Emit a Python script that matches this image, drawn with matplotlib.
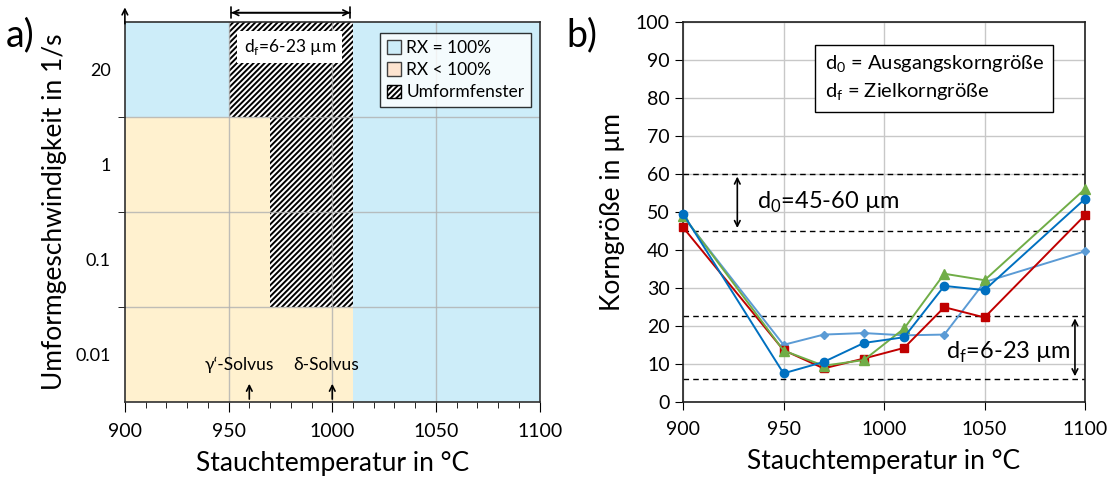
import numpy as np
import matplotlib
matplotlib.use('Agg')
import matplotlib.pyplot as plt
from matplotlib.patches import Patch, Rectangle

plt.rcParams['font.family'] = ['Lato', 'DejaVu Sans']
plt.rcParams['hatch.linewidth'] = 1.4

# --- panel a) process window ---
rate_labels = ['0.01', '0.1', '1', '20']          # bands from bottom to top
# per band: (end of RX<100% region, start of hatch, end of hatch)
rx_low_end = [1010, 970, 970, 900]
hatch_start = [1010, 970, 970, 950]
hatch_end = [1010, 1010, 1010, 1010]
solvus_T = [960, 1000]
solvus_names = ["\u03b3\u2018-Solvus", "\u03b4-Solvus"]

# --- panel b) grain size ---
temps = [900, 950, 970, 990, 1010, 1030, 1050, 1100]
d_blue = [49.5, 7.5, 10.5, 15.5, 17.0, 30.5, 29.4, 53.4]
d_red = [45.9, 13.6, 8.8, 11.4, 14.2, 24.9, 22.2, 49.1]
d_green = [49.0, 13.5, 9.5, 11.0, 19.3, 33.7, 32.0, 56.0]
d_light = [48.8, 15.0, 17.7, 18.1, 17.5, 17.7, 31.5, 39.6]
d0_range = [45, 60]
df_range = [6, 22.7]

blue_bg = '#cdedf9'
orange_bg = '#fff1cf'
grid_c = '#b0b0b0'

fig = plt.figure(figsize=(11.15, 4.83), dpi=100)
ax1 = fig.add_axes([0.112, 0.168, 0.372, 0.787])
ax2 = fig.add_axes([0.6126, 0.168, 0.3605, 0.787])

# ---------- left panel ----------
ax1.set_xlim(900, 1100)
ax1.set_ylim(0, 4)
ax1.add_patch(Rectangle((900, 0), 200, 4, facecolor=blue_bg, edgecolor='none', zorder=0))
for i in range(4):
    if rx_low_end[i] > 900:
        ax1.add_patch(Rectangle((900, i), rx_low_end[i] - 900, 1,
                                facecolor=orange_bg, edgecolor='none', zorder=0.5))
    if hatch_end[i] > hatch_start[i]:
        ax1.add_patch(Rectangle((hatch_start[i], i), hatch_end[i] - hatch_start[i], 1,
                                facecolor='white', edgecolor='black', hatch='//////',
                                linewidth=0, zorder=0.6))
for x in [950, 1000, 1050]:
    ax1.axvline(x, color=grid_c, lw=1, zorder=1, alpha=0.8)
for y in [1, 2, 3]:
    ax1.axhline(y, color=grid_c, lw=1, zorder=1, alpha=0.8)

ax1.set_xticks([900, 950, 1000, 1050, 1100])
ax1.set_xticks(np.arange(900, 1101, 10), minor=True)
ax1.set_yticks([0.5, 1.5, 2.5, 3.5])
ax1.set_yticklabels(rate_labels)
ax1.set_yticks([1, 2, 3], minor=True)
ax1.tick_params(axis='y', which='major', length=0, labelsize=13, pad=10)
ax1.tick_params(axis='y', which='minor', length=5, direction='out')
ax1.tick_params(axis='x', which='major', length=7, labelsize=14, pad=8)
ax1.tick_params(axis='x', which='minor', length=4)
for s in ax1.spines.values():
    s.set_color('#303030')
    s.set_linewidth(1.2)
ax1.set_xlabel('Stauchtemperatur in \u00b0C', fontsize=19, labelpad=8)
ax1.set_ylabel('Umformgeschwindigkeit in 1/s', fontsize=19, labelpad=6)

# y axis arrow above plot
ax1.annotate('', xy=(900, 4.18), xytext=(900, 3.95),
             arrowprops=dict(arrowstyle='->', color='black', lw=1.2),
             annotation_clip=False)
# process window width arrow
ax1.annotate('', xy=(950, 4.095), xytext=(1010, 4.095),
             arrowprops=dict(arrowstyle='|-|', color='black', lw=1.2, mutation_scale=4),
             annotation_clip=False)
ax1.annotate('', xy=(950, 4.095), xytext=(1010, 4.095),
             arrowprops=dict(arrowstyle='<->', color='black', lw=1.2),
             annotation_clip=False)
ax1.text(979.5, 3.73, 'd$_\\mathregular{f}$=6-23 \u00b5m', fontsize=12.5,
         ha='center', va='center', zorder=5,
         bbox=dict(facecolor='white', edgecolor='none', boxstyle='square,pad=0.35'))

for T in solvus_T:
    ax1.annotate('', xy=(T, 0.22), xytext=(T, 0.0),
                 arrowprops=dict(arrowstyle='->', color='black', lw=1.2))
ax1.text(955, 0.39, solvus_names[0], fontsize=12.5, ha='center', va='center')
ax1.text(997, 0.39, solvus_names[1], fontsize=12.5, ha='center', va='center')

handles = [Patch(facecolor=blue_bg, edgecolor='#404040', label='RX = 100%'),
           Patch(facecolor='#fde4d0', edgecolor='#404040', label='RX < 100%'),
           Patch(facecolor='white', edgecolor='black', hatch='//////', label='Umformfenster')]
leg = ax1.legend(handles=handles, loc='upper right', bbox_to_anchor=(0.98, 0.97),
                 fontsize=12.5, frameon=True, fancybox=False, handlelength=0.8,
                 handleheight=0.8, handletextpad=0.3, labelspacing=0.35,
                 borderpad=0.4, borderaxespad=0)
leg.get_frame().set_edgecolor('black')
leg.get_frame().set_linewidth(1.0)

fig.text(0.005, 0.905, 'a)', fontsize=27)

# ---------- right panel ----------
ax2.set_xlim(900, 1100)
ax2.set_ylim(0, 100)
ax2.set_xticks([900, 950, 1000, 1050, 1100])
ax2.set_yticks(np.arange(0, 101, 10))
ax2.grid(True, color='#c8c8c8', lw=1)
ax2.set_axisbelow(True)
ax2.tick_params(axis='both', labelsize=14, length=6, direction='out')
ax2.tick_params(axis='x', pad=8)
for s in ax2.spines.values():
    s.set_color('#202020')
    s.set_linewidth(1.2)

for v in d0_range + df_range:
    ax2.axhline(v, color='black', lw=1, ls=(0, (4, 3)), zorder=2)

ax2.plot(temps, d_light, color='#5b9bd5', marker='D', ms=4, lw=1.4, zorder=3, clip_on=False)
ax2.plot(temps, d_red, color='#c00000', marker='s', ms=6, lw=1.4, zorder=4, clip_on=False)
ax2.plot(temps, d_green, color='#70ad47', marker='^', ms=6.5, lw=1.4, zorder=5, clip_on=False)
ax2.plot(temps, d_blue, color='#0070c0', marker='o', ms=6, lw=1.4, zorder=6, clip_on=False)

ax2.annotate('', xy=(927, d0_range[0]), xytext=(927, d0_range[1]),
             arrowprops=dict(arrowstyle='<->', color='black', lw=1.2))
ax2.text(937, 52.5, 'd$_\\mathregular{0}$=45-60 \u00b5m', fontsize=17, ha='left', va='center')
ax2.annotate('', xy=(1095, df_range[0]), xytext=(1095, df_range[1]),
             arrowprops=dict(arrowstyle='<->', color='black', lw=1.2))
ax2.text(1031, 13, 'd$_\\mathregular{f}$=6-23 \u00b5m', fontsize=17, ha='left', va='center')

ax2.text(0.352, 0.915, 'd$_\\mathregular{0}$ = Ausgangskorngr\u00f6\u00dfe\n'
         'd$_\\mathregular{f}$ = Zielkorngr\u00f6\u00dfe',
         transform=ax2.transAxes, fontsize=14.5, ha='left', va='top', linespacing=1.4,
         bbox=dict(facecolor='white', edgecolor='black', lw=1, boxstyle='square,pad=0.45'))

ax2.set_xlabel('Stauchtemperatur in \u00b0C', fontsize=19, labelpad=8)
ax2.set_ylabel('Korngr\u00f6\u00dfe in \u00b5m', fontsize=19, labelpad=8)
fig.text(0.508, 0.905, 'b)', fontsize=27)

fig.savefig('out.png', dpi=100)
